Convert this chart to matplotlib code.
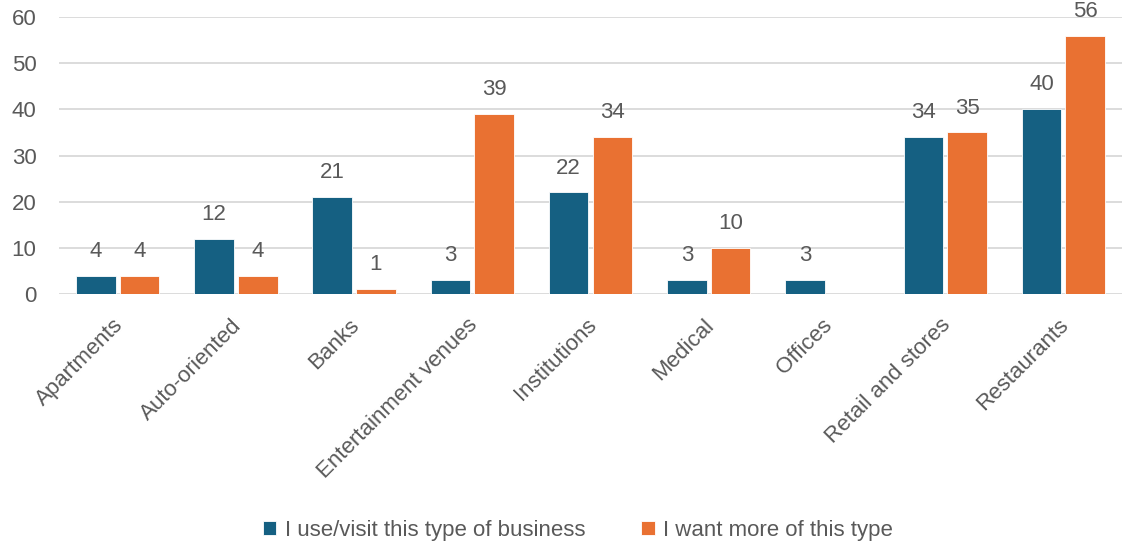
import matplotlib.pyplot as plt
import matplotlib.transforms as mtransforms
import numpy as np

# categories and the two survey series
categories = ['Apartments', 'Auto-oriented', 'Banks', 'Entertainment venues',
              'Institutions', 'Medical', 'Offices', 'Retail and stores', 'Restaurants']
use_visit = [4, 12, 21, 3, 22, 3, 3, 34, 40]
want_more = [4, 4, 1, 39, 34, 10, np.nan, 35, 56]
series_names = ['I use/visit this type of business', 'I want more of this type']

blue = '#156082'
orange = '#E97132'
txt = '#595959'

plt.rcParams['font.family'] = ['Liberation Sans', 'DejaVu Sans']

fig = plt.figure(figsize=(11.27, 5.5), dpi=100)
ax = fig.add_axes([0.052, 0.4655, 0.944, 0.5035])

x = np.arange(len(categories))
w = 0.335
off = 0.185
b1 = ax.bar(x - off, use_visit, w, color=blue, edgecolor='white', linewidth=0.6,
            label=series_names[0], zorder=3)
b2 = ax.bar(x + off, want_more, w, color=orange, edgecolor='white', linewidth=0.6,
            label=series_names[1], zorder=3)

# value labels above bars
for bars, vals in [(b1, use_visit), (b2, want_more)]:
    for rect, v in zip(bars, vals):
        if np.isnan(v):
            continue
        ax.annotate(f'{v:g}', (rect.get_x() + rect.get_width() / 2, v),
                    xytext=(0, 10), textcoords='offset points',
                    ha='center', va='bottom', fontsize=16, color=txt)

ax.set_ylim(0, 60)
ax.set_xlim(-0.5, len(categories) - 0.5)
ax.set_yticks(range(0, 61, 10))
ax.grid(axis='y', color='#D9D9D9', linewidth=1.3, zorder=0)
for s in ax.spines.values():
    s.set_visible(False)
ax.tick_params(axis='both', length=0, labelsize=16, colors=txt)
ax.tick_params(axis='y', pad=16)
ax.tick_params(axis='x', pad=15)
ax.set_xticks(x)
ax.set_xticklabels(categories, rotation=45, ha='right', rotation_mode='anchor')
# nudge rotated labels a little to the left
shift = mtransforms.ScaledTranslation(-0.05, 0, fig.dpi_scale_trans)
for lab in ax.get_xticklabels():
    lab.set_transform(lab.get_transform() + shift)

leg = fig.legend(handles=[b1, b2], loc='center', bbox_to_anchor=(0.513, 0.035),
                 ncol=2, frameon=False, handlelength=0.6, handleheight=0.6,
                 handletextpad=0.4, columnspacing=2.5,
                 prop={'family': ['Liberation Sans Narrow', 'Liberation Sans'], 'size': 16})
for t in leg.get_texts():
    t.set_color(txt)

plt.savefig('out.png', dpi=100)
